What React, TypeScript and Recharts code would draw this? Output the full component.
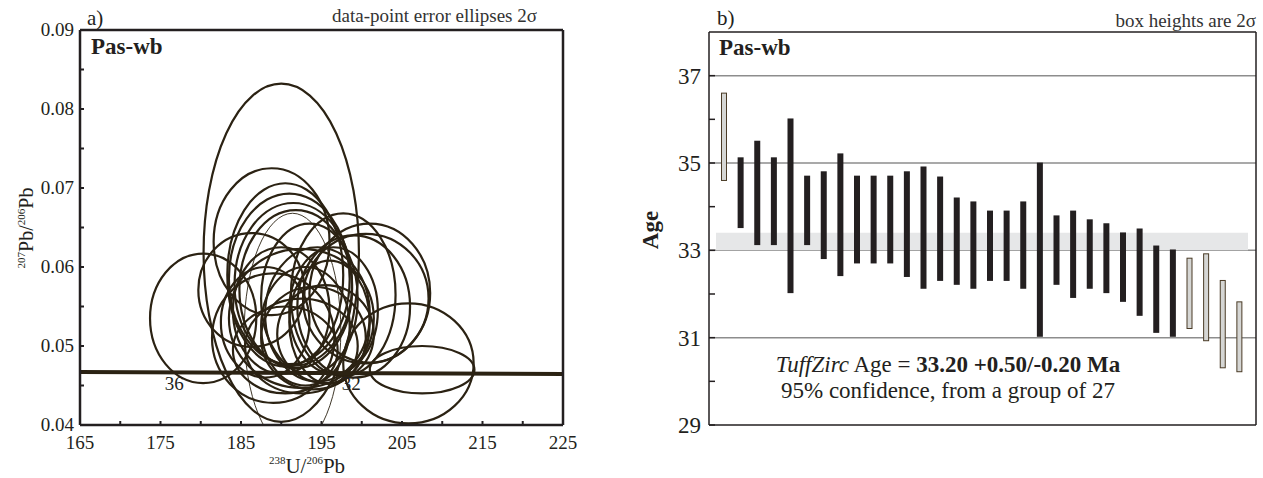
import React from 'react'
import {
  ComposedChart, Line, Bar, XAxis, YAxis, ReferenceArea, ReferenceDot, CartesianGrid,
} from 'recharts'

const SERIF = '"Liberation Serif", "Times New Roman", serif'
const INK = '#231f20'
const ELLIPSE_INK = '#2b2213'

// a) Tera-Wasserburg plot
const xTicksA = [165, 170, 175, 180, 185, 190, 195, 200, 205, 210, 215, 220, 225]
const xLabelsA = [165, 175, 185, 195, 205, 215, 225]
const yTicksA = [0.04, 0.045, 0.05, 0.055, 0.06, 0.065, 0.07, 0.075, 0.08, 0.085, 0.09]
const yLabelsA = [0.04, 0.05, 0.06, 0.07, 0.08, 0.09]

// ellipse centres and 2-sigma half axes
const ellipseX = [190.0, 188.8, 190.5, 191.0, 191.5, 191.8, 191.4, 197.7, 201.0, 200.5, 199.0, 180.3, 186.3, 192.5,
  189.0, 190.5, 192.5, 194.0, 195.5, 193.0, 196.0, 194.5, 188.0, 205.8, 207.5, 193.5, 196.5, 190.0]
const ellipseY = [0.0618, 0.0632, 0.0590, 0.0585, 0.0578, 0.0572, 0.0519, 0.0565, 0.0567, 0.0560, 0.0550, 0.0535, 0.0571, 0.0535,
  0.0510, 0.0495, 0.0500, 0.0510, 0.0515, 0.0525, 0.0530, 0.0540, 0.0530, 0.0478, 0.0470, 0.0560, 0.0545, 0.0545]
const ellipseErrX = [9.65, 7.2, 7.2, 7.5, 7.3, 7.0, 6.0, 6.5, 7.5, 7.8, 7.0, 6.6, 6.6, 9.0,
  7.6, 6.5, 7.0, 6.5, 6.0, 5.5, 5.0, 6.5, 5.5, 8.1, 6.5, 6.0, 5.5, 6.0]
const ellipseErrY = [0.0214, 0.0093, 0.0116, 0.0108, 0.0103, 0.0100, 0.0149, 0.0103, 0.0088, 0.0082, 0.0090, 0.0082, 0.0072, 0.0088,
  0.0082, 0.0055, 0.0060, 0.0065, 0.0062, 0.0075, 0.0078, 0.0085, 0.0070, 0.0076, 0.0030, 0.0095, 0.0080, 0.0080]
const thinEllipse = 6

const concordiaX = [165, 225]
const concordiaY = [0.0467, 0.04645]
const ageMarks = ['36', '32']
const ageMarkX = [176.7, 198.7]
const ageMarkY = [0.04443, 0.04443]

// b) weighted ages, box heights 2 sigma
const ageLow = [34.60, 33.51, 33.12, 33.12, 32.02, 33.12, 32.80, 32.41, 32.70, 32.70, 32.70, 32.39, 32.12, 32.30, 32.21, 32.12,
  32.30, 32.30, 32.12, 31.02, 32.21, 31.91, 32.12, 32.02, 31.82, 31.50, 31.11, 31.02, 31.21, 30.93, 30.31, 30.22]
const ageHigh = [36.60, 35.13, 35.51, 35.13, 36.02, 34.71, 34.81, 35.22, 34.71, 34.71, 34.71, 34.81, 34.92, 34.69, 34.21, 34.12,
  33.91, 33.91, 34.12, 35.01, 33.80, 33.91, 33.71, 33.62, 33.41, 33.50, 33.11, 33.02, 32.82, 32.92, 32.31, 31.82]
const rejected = [1, 29, 30, 31, 32]
const yTicksB = [29, 30, 31, 32, 33, 34, 35, 36, 37]
const yLabelsB = [29, 31, 33, 35, 37]
const gridB = [31, 33, 35, 37]
const tuffZircBand = [33.0, 33.4]

const concordia = concordiaX.map((x, i) => ({ x, y: concordiaY[i] }))
const ages = ageLow.map((lo, i) => ({ n: i + 1, range: [lo, ageHigh[i]], rejected: rejected.includes(i + 1) }))

const TM = 6

function XTickA(props: any) {
  const { x, y, payload } = props
  const v = payload.value
  return (
    <g>
      <line x1={x} x2={x} y1={y - TM} y2={y - TM - 4} stroke={INK} strokeWidth={2} />
      {xLabelsA.includes(v) && (
        <text x={x} y={y + 18} textAnchor="middle" fontFamily={SERIF} fontSize={19} fill={INK}>{v}</text>
      )}
    </g>
  )
}

function YTickA(props: any) {
  const { x, y, payload } = props
  const v = payload.value
  return (
    <g>
      <line x1={x + TM} x2={x + TM + 4} y1={y} y2={y} stroke={INK} strokeWidth={2} />
      {yLabelsA.includes(v) && (
        <text x={x} y={y + 6} textAnchor="end" fontFamily={SERIF} fontSize={19} fill={INK}>{v.toFixed(2)}</text>
      )}
    </g>
  )
}

function YTickB(props: any) {
  const { x, y, payload } = props
  const v = payload.value
  return (
    <g>
      <line x1={x + 8} x2={x + 14} y1={y} y2={y} stroke={INK} strokeWidth={1.5} />
      {yLabelsB.includes(v) && (
        <text x={x} y={y + 8} textAnchor="end" fontFamily={SERIF} fontSize={23} fill={INK}>{v}</text>
      )}
    </g>
  )
}

function AgeBox(props: any) {
  const { x, y, width, height, payload } = props
  const top = Math.min(y, y + height)
  const h = Math.abs(height)
  if (payload.rejected) {
    return <rect x={x + 0.5} y={top} width={width - 1} height={h} fill="#d5d6d4" stroke="#4a3b26" strokeWidth={1} />
  }
  return <rect x={x} y={top} width={width} height={h} fill={INK} />
}

function EllipseShape(i: number) {
  return (p: any) => {
    const w = Math.abs(p.width)
    const h = Math.abs(p.height)
    const left = Math.min(p.x, p.x + p.width)
    const top = Math.min(p.y, p.y + p.height)
    return (
      <ellipse clipPath={p.clipPath} cx={left + w / 2} cy={top + h / 2} rx={w / 2} ry={h / 2} fill="none"
        stroke={ELLIPSE_INK} strokeWidth={i === thinEllipse ? 0.9 : 2.2} />
    )
  }
}

function ConcordiaPlot() {
  return (
    <ComposedChart width={600} height={478} margin={{ top: 29, right: 36, bottom: 23, left: 10 }}>
      <XAxis dataKey="x" type="number" domain={[165, 225]} ticks={xTicksA} allowDataOverflow
        tick={<XTickA />} tickLine={false} tickSize={0} tickMargin={TM} height={30} interval={0}
        axisLine={{ stroke: INK, strokeWidth: 2.5 }} />
      <XAxis xAxisId="top" orientation="top" type="number" domain={[165, 225]} tick={false} tickLine={false}
        height={1} axisLine={{ stroke: INK, strokeWidth: 2.5 }} />
      <YAxis type="number" domain={[0.04, 0.09]} ticks={yTicksA} allowDataOverflow width={70}
        tick={<YTickA />} tickLine={false} tickSize={0} tickMargin={TM} interval={0}
        axisLine={{ stroke: INK, strokeWidth: 2.5 }} />
      <YAxis yAxisId="right" orientation="right" type="number" domain={[0.04, 0.09]} tick={false} tickLine={false}
        width={1} axisLine={{ stroke: INK, strokeWidth: 2.5 }} />
      {ellipseX.map((cx, i) => (
        <ReferenceArea key={i} x1={cx - ellipseErrX[i]} x2={cx + ellipseErrX[i]}
          y1={ellipseY[i] - ellipseErrY[i]} y2={ellipseY[i] + ellipseErrY[i]}
          ifOverflow="hidden" shape={EllipseShape(i)} />
      ))}
      <Line data={concordia} dataKey="y" stroke={ELLIPSE_INK} strokeWidth={4} dot={false} isAnimationActive={false} />
      {ageMarks.map((m, i) => (
        <ReferenceDot key={m} x={ageMarkX[i]} y={ageMarkY[i]} r={0}
          shape={(p: any) => (
            <text x={p.cx} y={p.cy} textAnchor="middle" fontFamily={SERIF} fontSize={19} fill={INK}>{m}</text>
          )} />
      ))}
    </ComposedChart>
  )
}

function AgePlot() {
  return (
    <ComposedChart width={623} height={478} data={ages} margin={{ top: 31, right: 6, bottom: 23, left: 9 }}>
      <CartesianGrid horizontal vertical={false} horizontalValues={gridB} stroke="#8d8d8d" strokeWidth={1.5} />
      <ReferenceArea y1={tuffZircBand[0]} y2={tuffZircBand[1]} fill="#e6e7e8" fillOpacity={1} stroke="none" />
      <XAxis dataKey="n" type="category" padding={{ left: 7, right: 8 }} tick={false} tickLine={false} height={30}
        axisLine={{ stroke: INK, strokeWidth: 1.5 }} />
      <XAxis xAxisId="top" orientation="top" dataKey="n" tick={false} tickLine={false} height={1}
        axisLine={{ stroke: INK, strokeWidth: 1.5 }} />
      <YAxis type="number" domain={[29, 38]} ticks={yTicksB} allowDataOverflow width={60}
        tick={<YTickB />} tickLine={false} tickSize={0} tickMargin={8} interval={0}
        axisLine={{ stroke: INK, strokeWidth: 1.5 }} />
      <YAxis yAxisId="right" orientation="right" type="number" domain={[29, 38]} tick={false} tickLine={false}
        width={1} axisLine={{ stroke: INK, strokeWidth: 1.5 }} />
      <Bar dataKey="range" barSize={6} shape={AgeBox} isAnimationActive={false} />
    </ComposedChart>
  )
}

export default function App() {
  const t = { fontFamily: SERIF, fill: INK }
  return (
    <div style={{ position: 'absolute', left: 0, top: 0, width: 1263, height: 478, background: '#fff' }}>
      <div style={{ position: 'absolute', left: 0, top: 0 }}><ConcordiaPlot /></div>
      <div style={{ position: 'absolute', left: 640, top: 0 }}><AgePlot /></div>
      <svg width={1263} height={478} style={{ position: 'absolute', left: 0, top: 0, pointerEvents: 'none' }}>
        <text x={87} y={25} fontSize={21} {...t}>a)</text>
        <text x={537} y={22} fontSize={19} textAnchor="end" {...t} fill="#333">data-point error ellipses 2σ</text>
        <text x={91} y={54} fontSize={23} fontWeight="bold" {...t}>Pas-wb</text>
        <text transform="translate(33 228) rotate(-90)" textAnchor="middle" fontSize={20} {...t}>
          <tspan fontSize={11} dy={-8}>207</tspan><tspan dy={8}>Pb/</tspan><tspan fontSize={11} dy={-8}>206</tspan><tspan dy={8}>Pb</tspan>
        </text>
        <text x={307} y={473} textAnchor="middle" fontSize={21} {...t}>
          <tspan fontSize={11} dy={-9}>238</tspan><tspan dy={9}>U/</tspan><tspan fontSize={11} dy={-9}>206</tspan><tspan dy={9}>Pb</tspan>
        </text>

        <text x={717} y={25} fontSize={21} {...t}>b)</text>
        <text x={1256} y={27} fontSize={19} textAnchor="end" {...t} fill="#333">box heights are 2σ</text>
        <text x={719} y={55} fontSize={23} fontWeight="bold" {...t}>Pas-wb</text>
        <text transform="translate(658 230) rotate(-90)" textAnchor="middle" fontSize={23} fontWeight="bold" {...t}>Age</text>
        <text x={948} y={372} textAnchor="middle" fontSize={23} {...t}>
          <tspan fontStyle="italic">TuffZirc</tspan> Age = <tspan fontWeight="bold">33.20 +0.50/-0.20 Ma</tspan>
        </text>
        <text x={948} y={398} textAnchor="middle" fontSize={23} {...t}>95% confidence, from a group of 27</text>
      </svg>
    </div>
  )
}
